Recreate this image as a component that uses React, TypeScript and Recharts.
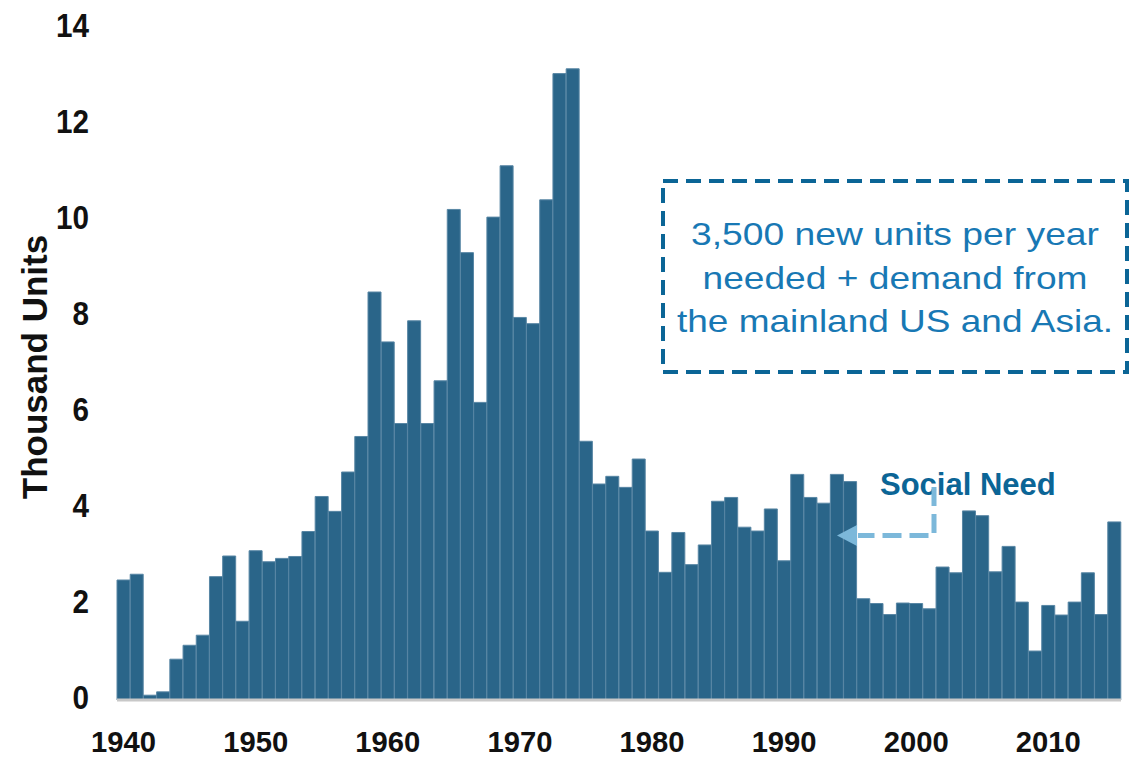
import { Bar, BarChart, XAxis, YAxis } from "recharts"

// Completed housing units per year, thousands
const years = [
  1940, 1941, 1942, 1943, 1944, 1945, 1946, 1947, 1948, 1949,
  1950, 1951, 1952, 1953, 1954, 1955, 1956, 1957, 1958, 1959,
  1960, 1961, 1962, 1963, 1964, 1965, 1966, 1967, 1968, 1969,
  1970, 1971, 1972, 1973, 1974, 1975, 1976, 1977, 1978, 1979,
  1980, 1981, 1982, 1983, 1984, 1985, 1986, 1987, 1988, 1989,
  1990, 1991, 1992, 1993, 1994, 1995, 1996, 1997, 1998, 1999,
  2000, 2001, 2002, 2003, 2004, 2005, 2006, 2007, 2008, 2009,
  2010, 2011, 2012, 2013, 2014, 2015,
]

const units = [
  2.5, 2.62, 0.1, 0.17, 0.85, 1.14, 1.35, 2.57, 3.0, 1.64,
  3.11, 2.88, 2.95, 2.99, 3.51, 4.24, 3.93, 4.75, 5.49, 8.5,
  7.46, 5.76, 7.9, 5.76, 6.65, 10.22, 9.32, 6.2, 10.06, 11.13,
  7.97, 7.84, 10.42, 13.05, 13.15, 5.39, 4.5, 4.66, 4.43, 5.02,
  3.52, 2.66, 3.49, 2.82, 3.23, 4.14, 4.22, 3.6, 3.52, 3.98,
  2.9, 4.7, 4.22, 4.1, 4.7, 4.55, 2.11, 2.01, 1.78, 2.02,
  2.01, 1.9, 2.77, 2.65, 3.94, 3.84, 2.67, 3.2, 2.04, 1.02,
  1.97, 1.77, 2.04, 2.65, 1.78, 3.71,
]

const yTicks = [0, 2, 4, 6, 8, 10, 12, 14]

const boxLines = [
  "3,500 new units per year",
  "needed + demand from",
  "the mainland US and Asia.",
]
const boxLineWidths = [408, 385, 436]

const chartData = years.map((year, i) => ({ year, units: units[i] }))

const W = 1140
const H = 759
const BAR_FILL = "#2a6589"
const BAR_EDGE = "#5886a4"
const DARK_BLUE = "#0b6596"
const TEXT_BLUE = "#1878b4"
const ARROW_BLUE = "#7cb8da"
const FONT = "'Liberation Sans', Arial, sans-serif"

// tick digits are drawn slightly condensed
function YTick({ x, y, payload }: any) {
  const label = String(payload.value)
  return (
    <text
      x={x}
      y={y}
      dy={9}
      textAnchor="end"
      textLength={label.length * 16.5}
      lengthAdjust="spacingAndGlyphs"
      fontFamily={FONT}
      fontWeight="bold"
      fontSize={33}
      fill="#111"
    >
      {label}
    </text>
  )
}

function XTick({ x, y, payload }: any) {
  return (
    <text
      x={x}
      y={y}
      dy={52}
      textAnchor="middle"
      textLength={65}
      lengthAdjust="spacingAndGlyphs"
      fontFamily={FONT}
      fontWeight="bold"
      fontSize={30}
      fill="#111"
    >
      {payload.value}
    </text>
  )
}

export default function App() {
  return (
    <div style={{ position: "absolute", left: 0, top: 0, width: W, height: H, background: "#fff" }}>
      <BarChart
        width={W}
        height={H}
        data={chartData}
        margin={{ top: 28, right: 19, bottom: 0, left: 0 }}
        barCategoryGap={0}
      >
        <XAxis
          dataKey="year"
          interval={9}
          tickLine={false}
          tickSize={0}
          tickMargin={0}
          height={59}
          axisLine={{ stroke: "#c8c8c8", strokeWidth: 3 }}
          tick={<XTick />}
        />
        <YAxis
          domain={[0, 14]}
          ticks={yTicks}
          width={117}
          axisLine={false}
          tickLine={false}
          tickSize={0}
          tickMargin={28}
          tick={<YTick />}
        />
        <Bar
          dataKey="units"
          fill={BAR_FILL}
          stroke={BAR_EDGE}
          strokeWidth={1}
          isAnimationActive={false}
        />
      </BarChart>

      <svg
        width={W}
        height={H}
        style={{ position: "absolute", left: 0, top: 0, pointerEvents: "none" }}
      >
        <text
          transform="translate(47 367) rotate(-90)"
          textAnchor="middle"
          fontFamily={FONT}
          fontWeight="bold"
          fontSize={35}
          fill="#111"
        >
          Thousand Units
        </text>

        {/* callout box */}
        <rect
          x={663}
          y={181}
          width={464}
          height={191}
          fill="none"
          stroke={DARK_BLUE}
          strokeWidth={4}
          strokeDasharray="15 8"
        />
        {boxLines.map((line, i) => (
          <text
            key={line}
            x={895}
            y={245 + i * 43.5}
            textAnchor="middle"
            textLength={boxLineWidths[i]}
            lengthAdjust="spacingAndGlyphs"
            fontFamily={FONT}
            fontSize={32}
            fill={TEXT_BLUE}
          >
            {line}
          </text>
        ))}

        {/* social need pointer */}
        <text x={880} y={495} fontFamily={FONT} fontWeight="bold" fontSize={31} fill={DARK_BLUE}>
          Social Need
        </text>
        <path
          d="M934 487 V535.5 H858"
          fill="none"
          stroke={ARROW_BLUE}
          strokeWidth={5}
          strokeDasharray="19 8"
        />
        <polygon points="837,535.5 857,525 857,546" fill={ARROW_BLUE} />
      </svg>
    </div>
  )
}
